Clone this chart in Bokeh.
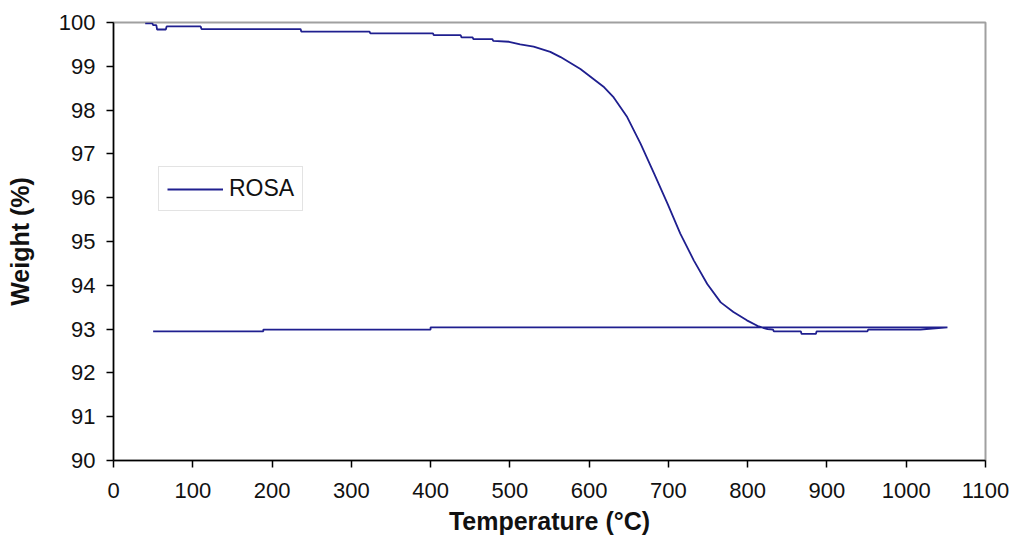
from bokeh.plotting import figure
from bokeh.models import Range1d, FixedTicker, Legend, LegendItem
from bokeh.embed import file_html
from bokeh.resources import INLINE

# Heating then cooling loop
temperature = [40, 49, 50, 54, 55, 66, 67, 110, 111, 236, 237, 323, 324, 403, 404, 438, 439,
               453, 454, 478, 479, 499, 513, 530, 551, 564, 589, 619, 631, 648, 665, 682, 699,
               715, 732, 749, 766, 782, 799, 814, 825, 832, 833, 867, 868, 886, 887, 951, 952,
               1018, 1052,
               1052, 400, 400, 189, 189, 50]
weight = [99.98, 99.98, 99.94, 99.94, 99.84, 99.84, 99.91, 99.91, 99.85, 99.85, 99.79, 99.79,
          99.75, 99.75, 99.71, 99.71, 99.66, 99.66, 99.62, 99.62, 99.58, 99.56, 99.50, 99.45,
          99.33, 99.21, 98.94, 98.52, 98.29, 97.84, 97.23, 96.55, 95.86, 95.18, 94.57, 94.03,
          93.61, 93.39, 93.20, 93.06, 93.00, 92.99, 92.95, 92.95, 92.89, 92.89, 92.95, 92.95,
          92.99, 92.99, 93.04,
          93.04, 93.04, 92.99, 92.99, 92.95, 92.95]
x_ticks = [0, 100, 200, 300, 400, 500, 600, 700, 800, 900, 1000, 1100]
y_ticks = [90, 91, 92, 93, 94, 95, 96, 97, 98, 99, 100]
series_name = "ROSA"

p = figure(frame_width=872, frame_height=438, output_backend="svg", toolbar_location=None,
           x_range=Range1d(0, 1100), y_range=Range1d(90, 100),
           min_border_left=113, min_border_right=28, min_border_top=22, min_border_bottom=87)
p.background_fill_color = "white"
p.border_fill_color = "white"
p.outline_line_color = "#a0a0a0"
p.outline_line_width = 2
p.xgrid.visible = False
p.ygrid.visible = False

r = p.line(temperature, weight, line_color="#1f1f8f", line_width=1.8)

for ax, ticks in ((p.xaxis[0], x_ticks), (p.yaxis[0], y_ticks)):
    ax.ticker = FixedTicker(ticks=ticks)
    ax.axis_line_color = "black"
    ax.axis_line_width = 1.5
    ax.major_tick_line_color = "black"
    ax.major_tick_line_width = 1.5
    ax.major_tick_in = 0
    ax.major_tick_out = 7
    ax.minor_tick_line_color = None
    ax.major_label_text_font = "Liberation Sans"
    ax.major_label_text_font_size = "22px"
    ax.major_label_text_color = "#111111"
    ax.axis_label_text_font = "Liberation Sans"
    ax.axis_label_text_font_style = "bold"
    ax.axis_label_text_font_size = "25px"
    ax.axis_label_text_color = "#111111"

p.xaxis.axis_label = "Temperature (°C)"
p.yaxis.axis_label = "Weight (%)"
p.xaxis.major_label_standoff = 15
p.yaxis.major_label_standoff = 11
p.xaxis.axis_label_standoff = 6
p.yaxis.axis_label_standoff = 22

legend = Legend(items=[LegendItem(label=series_name, renderers=[r])], location=(45, 249))
legend.label_text_font = "Liberation Sans"
legend.label_text_font_size = "23px"
legend.label_text_color = "#111111"
legend.border_line_color = "#c8c8c8"
legend.border_line_width = 1.5
legend.glyph_width = 56
legend.padding = 8
legend.label_standoff = 6
legend.background_fill_alpha = 1
p.add_layout(legend)

open("out.html", "w").write(file_html(p, INLINE))
